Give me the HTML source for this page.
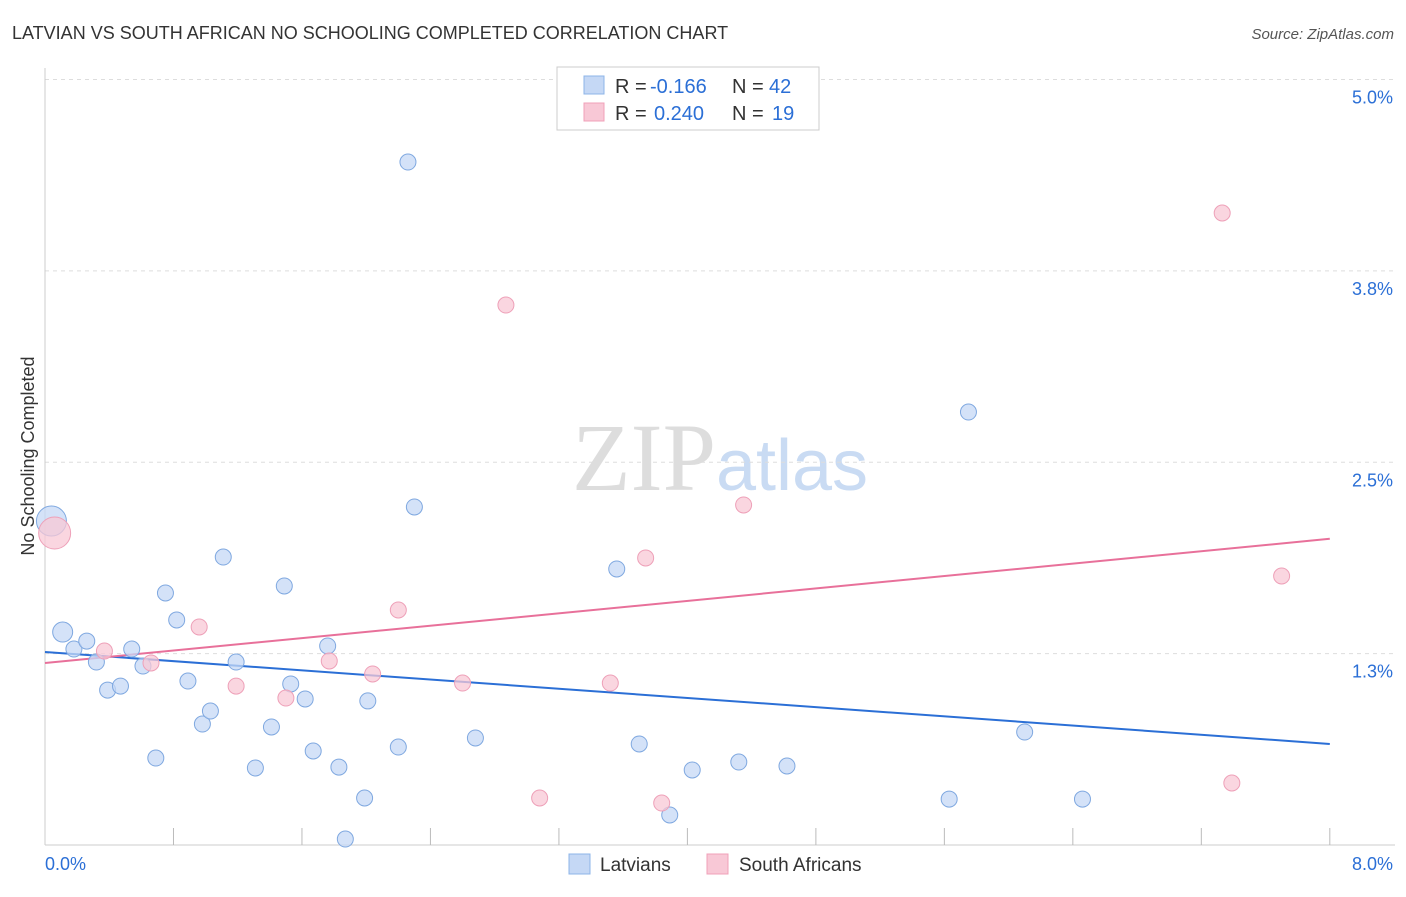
<!DOCTYPE html>
<html><head><meta charset="utf-8"><style>
body{margin:0;background:#fff;font-family:"Liberation Sans",sans-serif;}
</style></head><body>
<svg width="1406" height="892" xmlns="http://www.w3.org/2000/svg" font-family="Liberation Sans, sans-serif">
<text x="12" y="39" font-size="18" fill="#333">LATVIAN VS SOUTH AFRICAN NO SCHOOLING COMPLETED CORRELATION CHART</text>
<text x="1394" y="39" font-size="15" fill="#555" text-anchor="end" font-style="italic">Source: ZipAtlas.com</text>
<text x="720" y="490" font-size="96" text-anchor="middle"><tspan fill="#ddd" font-family="Liberation Serif, serif">ZIP</tspan><tspan fill="#c9dbf3" font-size="72">atlas</tspan></text>
<g id="grid"></g>
<g id="axes"></g>
<g id="lines"></g>
<g id="pts"></g>
<text transform="translate(34,456) rotate(-90)" font-size="18" fill="#333" text-anchor="middle">No Schooling Completed</text>
<g>
<rect x="557" y="67" width="262" height="63" fill="#fff" stroke="#ccc"/>
<rect x="584" y="76" width="20" height="18" fill="#c5d8f5" stroke="#8db4e8"/>
<rect x="584" y="103" width="20" height="18" fill="#f8c8d6" stroke="#f0a0b8"/>
<text x="615" y="93" font-size="20" fill="#333">R =</text>
<text x="650" y="93" font-size="20" fill="#2b6fd6">-0.166</text>
<text x="732" y="93" font-size="20" fill="#333">N =</text>
<text x="769" y="93" font-size="20" fill="#2b6fd6">42</text>
<text x="615" y="120" font-size="20" fill="#333">R =</text>
<text x="654" y="120" font-size="20" fill="#2b6fd6">0.240</text>
<text x="732" y="120" font-size="20" fill="#333">N =</text>
<text x="772" y="120" font-size="20" fill="#2b6fd6">19</text>
</g>
<g>
<rect x="569" y="854" width="21" height="20" fill="#c5d8f5" stroke="#8db4e8"/>
<text x="600" y="871" font-size="19" fill="#333">Latvians</text>
<rect x="707" y="854" width="21" height="20" fill="#f8c8d6" stroke="#f0a0b8"/>
<text x="739" y="871" font-size="19" fill="#333">South Africans</text>
</g>
</svg>
<script>
const yTicks=[5.0,3.75,2.5,1.25];
const yTickLabels=["5.0%","3.8%","2.5%","1.3%"];
const latX=[0.04,0.11,0.18,0.26,0.32,0.39,0.47,0.54,0.61,0.69,0.75,0.82,0.89,0.98,1.03,1.11,1.19,1.31,1.41,1.49,1.53,1.62,1.67,1.76,1.83,1.87,1.99,2.01,2.20,2.26,2.30,2.68,3.56,3.70,3.89,4.03,4.32,4.62,5.63,5.75,6.10,6.46];
const latY=[2.116,1.391,1.280,1.332,1.195,1.012,1.038,1.280,1.169,0.568,1.646,1.470,1.071,0.790,0.875,1.881,1.195,0.503,0.771,1.692,1.052,0.954,0.614,1.300,0.509,0.039,0.307,0.941,0.640,4.461,2.208,0.699,1.803,0.660,0.196,0.490,0.542,0.516,0.300,2.828,0.738,0.300];
const saX=[0.06,0.37,0.66,0.96,1.19,1.50,1.77,2.04,2.20,2.60,2.87,3.08,3.52,3.74,3.84,4.35,7.33,7.39,7.70];
const saY=[2.038,1.267,1.189,1.424,1.038,0.960,1.202,1.117,1.535,1.058,3.527,0.307,1.058,1.875,0.274,2.221,4.128,0.405,1.757];
const latTrend=[1.261,0.660];
const saTrend=[1.189,2.0];
const NS="http://www.w3.org/2000/svg";
const X=v=>45+v*160.6, Y=v=>845-v*153.1;
function mk(t,a,p){const e=document.createElementNS(NS,t);for(const k in a)e.setAttribute(k,a[k]);document.getElementById(p).appendChild(e);return e;}
yTicks.forEach((t,i)=>{
 const g=mk('line',{x1:45,x2:1395,y1:Y(t),y2:Y(t),stroke:'#ddd','stroke-dasharray':'4,4'},'grid');
 
 
 const l=mk('text',{x:1393,y:Y(t)+24,'font-size':18,fill:'#2b6fd6','text-anchor':'end'},'grid');
 l.textContent=yTickLabels[i];
 
 
});
mk('line',{x1:45,x2:45,y1:68,y2:845,stroke:'#ccc'},'axes');
mk('line',{x1:45,x2:1395,y1:845,y2:845,stroke:'#ccc'},'axes');
for(let i=1;i<=10;i++){const x=X(i*0.8);mk('line',{x1:x,x2:x,y1:828,y2:845,stroke:'#bbb'},'axes');}
const xl=mk('text',{x:45,y:870,'font-size':18,fill:'#2b6fd6'},'axes');xl.textContent='0.0%';


const xr=mk('text',{x:1393,y:870,'font-size':18,fill:'#2b6fd6','text-anchor':'end'},'axes');xr.textContent='8.0%';


function pts(xs,ys,fill,stroke,name){xs.forEach((x,i)=>{
 const r=i===0?(name==='latvian-point'?15:16):(name==='latvian-point'&&i===1?10:8);
 const c=mk('circle',{cx:X(x),cy:Y(ys[i]),r:r,fill:fill,'fill-opacity':0.75,stroke:stroke,'stroke-width':1},'pts');
 
 
});}
pts(latX,latY,'#c5d8f5','#7fa8e0','latvian-point');
pts(saX,saY,'#f8c8d6','#eea0b8','south-african-point');
const l1=mk('line',{x1:X(0),y1:Y(latTrend[0]),x2:X(8),y2:Y(latTrend[1]),stroke:'#2b6fd6','stroke-width':2},'lines');


const l2=mk('line',{x1:X(0),y1:Y(saTrend[0]),x2:X(8),y2:Y(saTrend[1]),stroke:'#e8709a','stroke-width':2},'lines');


</script>
</body></html>
